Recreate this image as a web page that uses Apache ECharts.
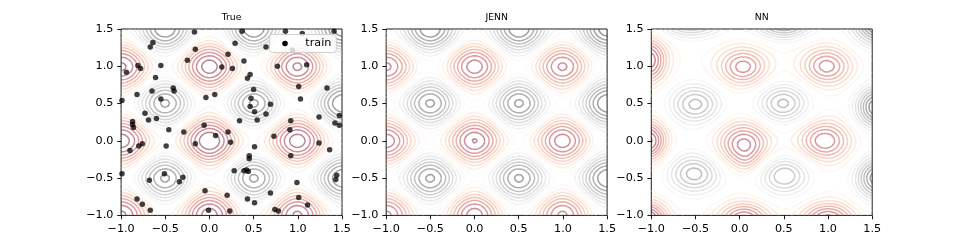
<!DOCTYPE html>
<html><head><meta charset="utf-8">
<script src="https://cdn.jsdelivr.net/npm/echarts@6/dist/echarts.min.js"></script>
<style>html,body{margin:0;padding:0;background:#fff}#c{width:969px;height:242px}</style>
</head><body><div id="c"></div>
<script>
// ---------------- data ----------------
const panelTitles = ['True', 'JENN', 'NN'];
const axisTicks = [-1.0, -0.5, 0.0, 0.5, 1.0, 1.5];
// contour levels (step 2.5)
const contourLevels = [-5, -2.5, 0, 2.5, 5, 7.5, 10, 12.5, 15, 17.5, 20, 22.5, 25, 27.5, 30, 32.5, 35, 37.5, 40, 42.5, 45, 47.5, 50];
// colour range of each panel [low, high]
const colorRangeTrue = [2.5, 42.5];
const colorRangeJenn = [0, 42.5];
const colorRangeNN = [0, 45];
// True surface: 2-D Rastrigin test function, A = 10
const rastriginA = 10;
// JENN prediction = true surface with a very small dip at the origin
const jennDipX = [0.0];
const jennDipY = [0.0];
const jennDipValue = [-0.25];
const jennDipWidth = [0.03];
// NN prediction: extrema (centre, value, widths)
const nnBase = 21;
const nnCx  = [0.04, 0.985, 0.96, 0.05, -1.03, -1.03, 0.05, 1.0, -1.05, -0.50, 0.49, -0.51, 0.50, 1.56, 1.56, 1.62, 0.50, -0.55, 0.09];
const nnCy  = [0.99, 1.00, 0.00, -0.05, 0.00, 1.08, -1.06, -1.06, -1.05, 0.49, 0.50, -0.44, -0.46, 0.45, -0.50, 1.62, 1.60, 1.62, -0.30];
const nnVal = [3.5, 3.5, 2.5, 1.0, -1.0, 0.0, 1.5, 1.0, -2.0, 38.5, 38.5, 39.0, 38.0, 46.0, 45.0, 52.0, 43.0, 41.0, 18.0];
const nnSx  = [0.21, 0.21, 0.22, 0.22, 0.15, 0.15, 0.21, 0.22, 0.17, 0.22, 0.22, 0.23, 0.22, 0.18, 0.18, 0.24, 0.24, 0.27, 0.10];
const nnSy  = [0.19, 0.19, 0.20, 0.22, 0.20, 0.22, 0.17, 0.17, 0.17, 0.20, 0.20, 0.20, 0.20, 0.21, 0.21, 0.24, 0.16, 0.16, 0.11];
// training points
const trainX = [-0.17,-0.64,-0.67,-0.16,0.21,-0.25,-0.81,-0.78,-0.55,-0.94,0.14,-0.61,-0.41,-0.65,-0.40,-0.82,-0.55,-0.04,0.06,-0.99,
  -0.73,-0.60,-0.87,-0.87,-0.86,-0.06,0.37,0.86,1.05,1.41,0.64,0.29,0.94,0.39,0.26,0.77,1.10,0.46,0.43,1.01,
  1.33,0.50,1.03,0.47,0.69,0.46,0.51,0.64,0.54,0.34,0.92,1.24,1.42,1.47,1.47,-0.69,-0.46,-0.29,0.07,0.21,
  -0.76,-0.80,-0.90,-0.49,-0.16,-0.99,-0.51,-0.68,-0.30,-0.34,-0.05,-0.82,-0.76,-0.67,-0.01,0.91,0.73,0.24,1.24,0.51,
  0.45,0.45,0.92,1.36,0.28,0.39,0.42,0.44,1.44,1.43,0.99,0.69,0.43,0.51,1.01,1.11,0.20,0.23,0.74,0.78];
const trainY = [1.46,1.32,1.26,1.23,1.16,1.08,1.01,0.97,1.01,0.92,0.99,0.85,0.71,0.67,0.67,0.62,0.56,0.58,0.62,0.54,
  0.37,0.30,0.26,0.22,0.18,0.21,1.47,1.47,1.44,1.47,1.26,1.31,1.22,1.07,0.97,1.00,1.02,0.89,0.84,0.73,
  0.71,0.69,0.56,0.57,0.49,0.46,0.39,0.36,0.28,0.27,0.27,0.32,0.24,0.21,0.34,0.28,0.15,0.12,0.07,0.12,
  -0.04,-0.07,-0.13,-0.07,-0.04,-0.44,-0.44,-0.53,-0.49,-0.55,-0.67,-0.78,-0.85,-0.93,-0.93,0.15,0.06,-0.02,-0.03,-0.08,
  -0.20,-0.24,-0.20,-0.12,-0.40,-0.40,-0.39,-0.41,-0.46,-0.52,-0.56,-0.70,-0.78,-0.83,-0.76,-0.86,-0.73,-0.94,-0.92,-0.94];

// RdGy colormap stops
const rdgy = [[103,0,31],[178,24,43],[214,96,77],[244,165,130],[253,219,199],[255,255,255],[224,224,224],[186,186,186],[135,135,135],[77,77,77],[26,26,26]];

// ---------------- surfaces ----------------
function trueF(x, y) {
  return 2 * rastriginA + x * x + y * y - rastriginA * Math.cos(2 * Math.PI * x) - rastriginA * Math.cos(2 * Math.PI * y);
}
function jennF(x, y) {
  let v = trueF(x, y);
  for (let k = 0; k < jennDipX.length; k++) {
    const dx = x - jennDipX[k], dy = y - jennDipY[k], w = jennDipWidth[k];
    v += jennDipValue[k] * Math.exp(-(dx * dx + dy * dy) / (2 * w * w));
  }
  return v;
}
function nnF(x, y) {
  let v = nnBase;
  for (let k = 0; k < nnCx.length; k++) {
    const dx = x - nnCx[k], dy = y - nnCy[k];
    v += (nnVal[k] - nnBase) * Math.exp(-(dx * dx) / (2 * nnSx[k] * nnSx[k]) - (dy * dy) / (2 * nnSy[k] * nnSy[k]));
  }
  return v;
}

// ---------------- contouring ----------------
const N = 221, lo = -1, hi = 1.5;
const gx = [], gy = [];
for (let i = 0; i < N; i++) { gx.push(lo + (hi - lo) * i / (N - 1)); gy.push(lo + (hi - lo) * i / (N - 1)); }

function sample(fn) {
  const a = new Float64Array(N * N);
  for (let j = 0; j < N; j++) for (let i = 0; i < N; i++) a[j * N + i] = fn(gx[i], gy[j]);
  return a;
}

function contour(F, L) {
  const nx = N, ny = N, H = (nx - 1) * ny;
  const pos = new Map(), adj = new Map();
  const pt = (id, x0, y0, v0, x1, y1, v1) => {
    if (!pos.has(id)) { const t = (L - v0) / (v1 - v0); pos.set(id, [x0 + (x1 - x0) * t, y0 + (y1 - y0) * t]); }
    return id;
  };
  const link = (a, b) => {
    if (!adj.has(a)) adj.set(a, []); if (!adj.has(b)) adj.set(b, []);
    adj.get(a).push(b); adj.get(b).push(a);
  };
  for (let j = 0; j < ny - 1; j++) {
    for (let i = 0; i < nx - 1; i++) {
      const v00 = F[j * nx + i], v10 = F[j * nx + i + 1], v01 = F[(j + 1) * nx + i], v11 = F[(j + 1) * nx + i + 1];
      const c = (v00 > L ? 1 : 0) | (v10 > L ? 2 : 0) | (v11 > L ? 4 : 0) | (v01 > L ? 8 : 0);
      if (c === 0 || c === 15) continue;
      const x0 = gx[i], x1 = gx[i + 1], y0 = gy[j], y1 = gy[j + 1];
      const B = () => pt(j * (nx - 1) + i, x0, y0, v00, x1, y0, v10);
      const T = () => pt((j + 1) * (nx - 1) + i, x0, y1, v01, x1, y1, v11);
      const Lf = () => pt(H + j * nx + i, x0, y0, v00, x0, y1, v01);
      const R = () => pt(H + j * nx + i + 1, x1, y0, v10, x1, y1, v11);
      switch (c) {
        case 1: case 14: link(Lf(), B()); break;
        case 2: case 13: link(B(), R()); break;
        case 3: case 12: link(Lf(), R()); break;
        case 4: case 11: link(R(), T()); break;
        case 6: case 9: link(B(), T()); break;
        case 7: case 8: link(Lf(), T()); break;
        case 5: { const m = (v00 + v10 + v11 + v01) / 4;
          if (m > L) { link(B(), R()); link(Lf(), T()); } else { link(Lf(), B()); link(R(), T()); } break; }
        case 10: { const m = (v00 + v10 + v11 + v01) / 4;
          if (m > L) { link(Lf(), B()); link(R(), T()); } else { link(B(), R()); link(Lf(), T()); } break; }
      }
    }
  }
  const seen = new Set(), lines = [];
  const walk = (start) => {
    const line = [pos.get(start)]; seen.add(start); let cur = start;
    while (true) {
      const nb = adj.get(cur); let nxt = -1;
      for (const n of nb) if (!seen.has(n)) { nxt = n; break; }
      if (nxt < 0) { if (line.length > 2 && nb.indexOf(start) >= 0) line.push(pos.get(start)); break; }
      seen.add(nxt); line.push(pos.get(nxt)); cur = nxt;
    }
    return line;
  };
  for (const [id, nb] of adj) if (nb.length === 1 && !seen.has(id)) lines.push(walk(id));
  for (const id of adj.keys()) if (!seen.has(id)) lines.push(walk(id));
  const out = [];
  lines.forEach((ln, k) => { if (k) out.push([NaN, NaN]); ln.forEach(p => out.push(p)); });
  return out;
}

function cmap(t) {
  t = Math.max(0, Math.min(1, t));
  const s = t * 10, k = Math.min(9, Math.floor(s)), f = s - k;
  const a = rdgy[k], b = rdgy[k + 1];
  return [0, 1, 2].map(c => Math.round(a[c] + (b[c] - a[c]) * f));
}

// ---------------- layout ----------------
const gridLeft = [121.1, 386.2, 651.3], gridTop = 29.0, gridW = 220.9, gridH = 186.4;
const font = 'DejaVu Sans';
const fmt = v => (v < 0 ? '\u2212' : '') + Math.abs(v).toFixed(1);

const surfaces = [sample(trueF), sample(jennF), sample(nnF)];
const ranges = [colorRangeTrue, colorRangeJenn, colorRangeNN];

const series = [];
surfaces.forEach((F, p) => {
  let zmin = Infinity, zmax = -Infinity;
  for (const v of F) { if (v < zmin) zmin = v; if (v > zmax) zmax = v; }
  const [c0, c1] = ranges[p];
  contourLevels.filter(L => L > zmin && L < zmax).forEach(L => {
    const col = cmap((L - c0) / (c1 - c0));
    series.push({
      type: 'line', xAxisIndex: p, yAxisIndex: p, data: contour(F, L),
      showSymbol: false, symbol: 'none', silent: true, animation: false, connectNulls: false, clip: true, z: 2,
      lineStyle: { color: `rgba(${col[0]},${col[1]},${col[2]},0.47)`, width: 1.5, join: 'round' },
      emphasis: { disabled: true }
    });
  });
});
series.push({
  name: 'train', type: 'scatter', xAxisIndex: 0, yAxisIndex: 0, z: 3, silent: true, animation: false,
  data: trainX.map((x, i) => [x, trainY[i]]), symbol: 'circle', symbolSize: 5.5,
  itemStyle: { color: '#000', opacity: 0.75 }
});

const grids = [], xAxes = [], yAxes = [];
for (let p = 0; p < 3; p++) {
  grids.push({ left: gridLeft[p], top: gridTop, width: gridW, height: gridH, show: true, borderColor: '#000', borderWidth: 0.9, backgroundColor: 'transparent', containLabel: false, outerBoundsMode: 'none' });
  const axCommon = {
    type: 'value', gridIndex: p, min: axisTicks[0], max: axisTicks[axisTicks.length - 1], interval: 0.5,
    axisLine: { show: false, onZero: false }, splitLine: { show: false },
    axisTick: { show: true, inside: false, length: 3.9, lineStyle: { color: '#000', width: 0.9 } },
    axisLabel: { show: true, margin: 7.8, formatter: fmt, fontFamily: font, fontSize: 11.2, color: '#000', showMinLabel: true, showMaxLabel: true, hideOverlap: false }
  };
  xAxes.push(Object.assign({ position: 'bottom' }, axCommon));
  yAxes.push(Object.assign({ position: 'left' }, axCommon));
}

const chart = echarts.init(document.getElementById('c'), null, { renderer: 'canvas' });
chart.setOption({
  animation: false,
  backgroundColor: '#fff',
  title: panelTitles.map((t, p) => ({
    text: t, left: gridLeft[p] + gridW / 2, top: 13.5, textAlign: 'center', padding: 0,
    textStyle: { fontFamily: font, fontSize: 9.3, fontWeight: 'normal', color: '#000' }
  })),
  legend: {
    data: [{ name: 'train', icon: 'circle' }], left: 269.5, top: 34.5, orient: 'horizontal',
    itemWidth: 5.6, itemHeight: 5.6, padding: [3.5, 5, 3.5, 12.7], selectedMode: false,
    backgroundColor: 'rgba(255,255,255,0.8)', borderColor: '#cccccc', borderWidth: 0.9, borderRadius: 3,
    itemStyle: { opacity: 1 },
    formatter: '{t|{name}}',
    textStyle: { fontFamily: font, fontSize: 11.2, color: '#000',
      rich: { t: { fontFamily: font, fontSize: 11.2, color: '#000', padding: [0, 0, 0, 12.5] } } }
  },
  grid: grids, xAxis: xAxes, yAxis: yAxes, series: series
});
</script></body></html>
